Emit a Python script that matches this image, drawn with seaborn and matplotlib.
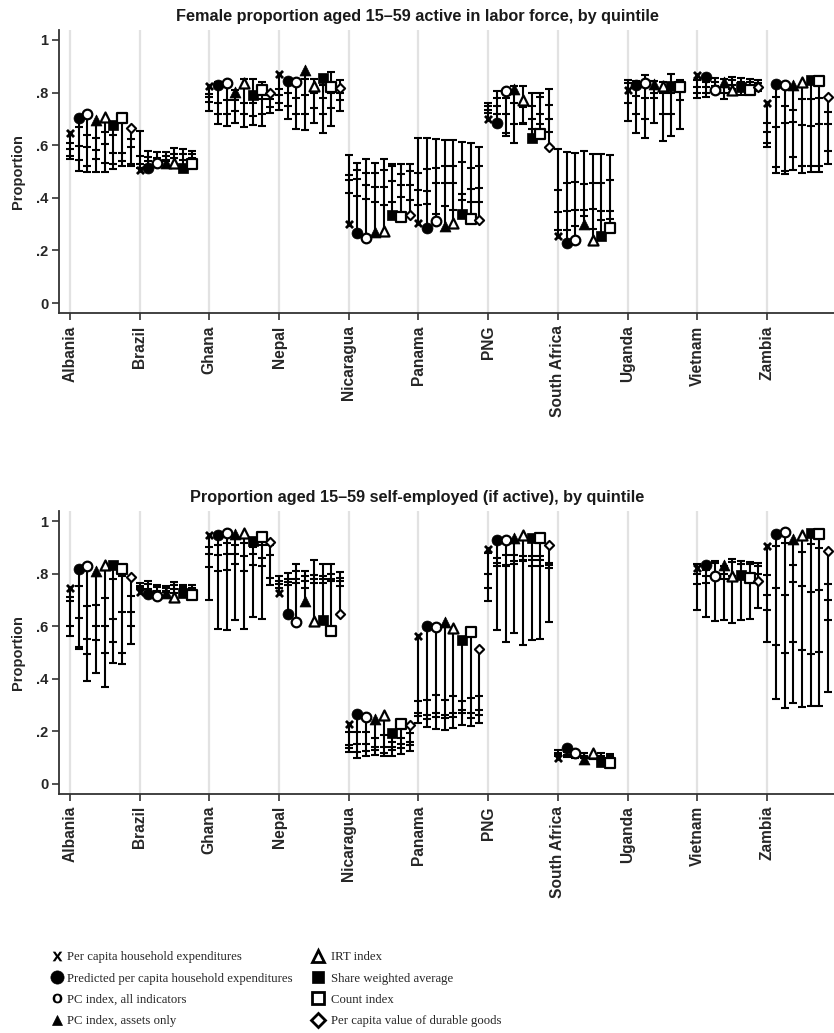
import numpy as np
import pandas as pd
import seaborn as sns
import matplotlib.pyplot as plt
from matplotlib.lines import Line2D

countries = ['Albania', 'Brazil', 'Ghana', 'Nepal', 'Nicaragua', 'Panama', 'PNG',
             'South Africa', 'Uganda', 'Vietnam', 'Zambia']
methods = ['Per capita household expenditures',
           'Predicted per capita household expenditures',
           'PC index, all indicators', 'PC index, assets only', 'IRT index',
           'Share weighted average', 'Count index',
           'Per capita value of durable goods']

# one row per method, values for quintiles 1..5 (marker = quintile 1)
# --- female proportion active in labor force ---
active_albania = [[0.645, 0.61, 0.585, 0.56, 0.546], [0.704, 0.668, 0.596, 0.543, 0.503],
                  [0.718, 0.64, 0.594, 0.52, 0.497], [0.695, 0.628, 0.58, 0.546, 0.499],
                  [0.708, 0.65, 0.604, 0.533, 0.499], [0.676, 0.64, 0.571, 0.53, 0.511],
                  [0.702, 0.714, 0.569, 0.54, 0.52], [0.666, 0.622, 0.594, 0.527, 0.52]]
active_brazil = [[0.505, 0.655, 0.56, 0.53, 0.515], [0.515, 0.579, 0.556, 0.54, 0.525],
                 [0.533, 0.575, 0.552, 0.54, 0.535], [0.533, 0.575, 0.56, 0.545, 0.54],
                 [0.534, 0.591, 0.565, 0.55, 0.52], [0.514, 0.584, 0.568, 0.545, 0.525],
                 [0.53, 0.579, 0.565, 0.55, 0.54], None]
active_ghana = [[0.825, 0.794, 0.784, 0.765, 0.731], [0.827, 0.841, 0.759, 0.72, 0.68],
                [0.838, 0.84, 0.772, 0.72, 0.673], [0.803, 0.81, 0.772, 0.73, 0.683],
                [0.835, 0.85, 0.759, 0.72, 0.668], [0.79, 0.852, 0.76, 0.71, 0.676],
                [0.81, 0.841, 0.774, 0.72, 0.673], [0.8, 0.79, 0.775, 0.746, 0.721]]
active_nepal = [[0.871, 0.812, 0.79, 0.76, 0.733], [0.844, 0.85, 0.80, 0.75, 0.698],
                [0.841, 0.85, 0.78, 0.72, 0.66], [0.886, 0.85, 0.79, 0.72, 0.657],
                [0.825, 0.85, 0.80, 0.74, 0.683], [0.854, 0.83, 0.78, 0.72, 0.647],
                [0.822, 0.879, 0.80, 0.74, 0.674], [0.816, 0.848, 0.80, 0.77, 0.731]]
active_nicaragua = [[0.302, 0.419, 0.467, 0.487, 0.562], [0.268, 0.406, 0.47, 0.505, 0.533],
                    [0.247, 0.395, 0.45, 0.496, 0.549], [0.27, 0.385, 0.44, 0.495, 0.533],
                    [0.274, 0.372, 0.44, 0.505, 0.547], [0.334, 0.385, 0.464, 0.52, 0.53],
                    [0.326, 0.404, 0.45, 0.492, 0.53], [0.334, 0.39, 0.448, 0.5, 0.53]]
active_panama = [[0.305, 0.374, 0.429, 0.495, 0.626], [0.287, 0.378, 0.425, 0.511, 0.628],
                 [0.311, 0.34, 0.457, 0.514, 0.622], [0.292, 0.368, 0.457, 0.52, 0.619],
                 [0.305, 0.355, 0.457, 0.522, 0.619], [0.34, 0.39, 0.416, 0.537, 0.613],
                 [0.319, 0.385, 0.435, 0.515, 0.609], [0.315, 0.385, 0.438, 0.522, 0.594]]
active_png = [[0.698, 0.721, 0.735, 0.749, 0.761], [0.683, 0.72, 0.75, 0.78, 0.807],
              [0.807, 0.78, 0.72, 0.647, 0.635], [0.812, 0.825, 0.76, 0.68, 0.609],
              [0.772, 0.825, 0.746, 0.683, 0.68], [0.626, 0.8, 0.75, 0.7, 0.66],
              [0.642, 0.797, 0.784, 0.72, 0.68], [0.594, 0.65, 0.698, 0.753, 0.812]]
active_south_africa = [[0.254, 0.277, 0.345, 0.431, 0.585], [0.23, 0.277, 0.35, 0.457, 0.574],
                       [0.241, 0.292, 0.355, 0.461, 0.571], [0.299, 0.33, 0.353, 0.454, 0.577],
                       [0.239, 0.28, 0.359, 0.458, 0.565], [0.254, 0.315, 0.35, 0.458, 0.566],
                       [0.286, 0.32, 0.35, 0.467, 0.562], None]
active_uganda = [[0.81, 0.848, 0.835, 0.76, 0.693], [0.829, 0.845, 0.787, 0.72, 0.647],
                 [0.835, 0.867, 0.778, 0.7, 0.626], [0.832, 0.845, 0.797, 0.778, 0.685],
                 [0.826, 0.841, 0.8, 0.72, 0.617], [0.825, 0.871, 0.8, 0.72, 0.635],
                 [0.82, 0.848, 0.838, 0.772, 0.66], None]
active_vietnam = [[0.867, 0.848, 0.82, 0.8, 0.78], [0.858, 0.84, 0.82, 0.8, 0.782],
                  [0.81, 0.854, 0.841, 0.825, 0.82], [0.841, 0.85, 0.82, 0.8, 0.775],
                  [0.81, 0.858, 0.848, 0.83, 0.815], [0.82, 0.854, 0.84, 0.83, 0.791],
                  [0.81, 0.85, 0.84, 0.825, 0.8], [0.82, 0.848, 0.835, 0.825, 0.807]]
active_zambia = [[0.759, 0.685, 0.651, 0.609, 0.594], [0.832, 0.782, 0.668, 0.518, 0.496],
                 [0.829, 0.75, 0.683, 0.5, 0.49], [0.829, 0.734, 0.689, 0.556, 0.505],
                 [0.841, 0.775, 0.676, 0.522, 0.495], [0.848, 0.775, 0.673, 0.52, 0.499],
                 [0.845, 0.778, 0.68, 0.52, 0.499], [0.784, 0.727, 0.68, 0.579, 0.53]]

# --- proportion self-employed (if active) ---
selfemp_albania = [[0.745, 0.71, 0.694, 0.601, 0.561], [0.818, 0.752, 0.631, 0.522, 0.512],
                   [0.828, 0.675, 0.55, 0.493, 0.389], [0.809, 0.682, 0.6, 0.545, 0.42],
                   [0.832, 0.707, 0.6, 0.499, 0.369], [0.833, 0.78, 0.627, 0.539, 0.461],
                   [0.818, 0.792, 0.654, 0.499, 0.456], [0.787, 0.713, 0.654, 0.601, 0.532]]
selfemp_brazil = [[0.729, 0.764, 0.752, 0.745, 0.74], [0.722, 0.773, 0.76, 0.74, 0.73],
                  [0.713, 0.758, 0.75, 0.735, 0.725], [0.724, 0.752, 0.745, 0.735, 0.73],
                  [0.71, 0.767, 0.755, 0.74, 0.725], [0.726, 0.758, 0.75, 0.74, 0.73],
                  [0.717, 0.755, 0.745, 0.735, 0.725], None]
selfemp_ghana = [[0.946, 0.901, 0.873, 0.825, 0.698], [0.946, 0.907, 0.87, 0.809, 0.59],
                 [0.955, 0.917, 0.873, 0.815, 0.583], [0.949, 0.907, 0.873, 0.837, 0.624],
                 [0.955, 0.915, 0.866, 0.809, 0.589], [0.924, 0.9, 0.873, 0.834, 0.634],
                 [0.939, 0.91, 0.86, 0.828, 0.628], [0.92, 0.91, 0.869, 0.783, 0.755]]
selfemp_nepal = [[0.724, 0.79, 0.77, 0.761, 0.745], [0.646, 0.803, 0.78, 0.767, 0.758],
                 [0.614, 0.838, 0.809, 0.78, 0.764], [0.697, 0.809, 0.79, 0.77, 0.745],
                 [0.62, 0.851, 0.796, 0.78, 0.764], [0.624, 0.838, 0.792, 0.78, 0.764],
                 [0.582, 0.838, 0.8, 0.78, 0.77], [0.647, 0.805, 0.783, 0.77, 0.752]]
selfemp_nicaragua = [[0.225, 0.197, 0.146, 0.134, 0.121], [0.264, 0.197, 0.15, 0.121, 0.096],
                     [0.252, 0.197, 0.15, 0.124, 0.104], [0.246, 0.172, 0.14, 0.127, 0.108],
                     [0.261, 0.185, 0.14, 0.118, 0.104], [0.191, 0.159, 0.14, 0.127, 0.104],
                     [0.227, 0.172, 0.15, 0.136, 0.111], [0.223, 0.191, 0.16, 0.146, 0.124]]
selfemp_panama = [[0.561, 0.316, 0.27, 0.257, 0.232], [0.601, 0.318, 0.26, 0.245, 0.214],
                  [0.596, 0.336, 0.27, 0.255, 0.206], [0.614, 0.318, 0.26, 0.248, 0.204],
                  [0.592, 0.334, 0.27, 0.255, 0.21], [0.548, 0.316, 0.28, 0.268, 0.223],
                  [0.576, 0.325, 0.27, 0.251, 0.219], [0.512, 0.334, 0.28, 0.261, 0.232]]
selfemp_png = [[0.894, 0.879, 0.8, 0.745, 0.694], [0.926, 0.86, 0.84, 0.828, 0.586],
               [0.927, 0.87, 0.834, 0.83, 0.539], [0.934, 0.87, 0.847, 0.838, 0.573],
               [0.946, 0.866, 0.85, 0.847, 0.529], [0.934, 0.866, 0.85, 0.83, 0.548],
               [0.934, 0.866, 0.85, 0.828, 0.552], [0.907, 0.84, 0.832, 0.82, 0.615]]
selfemp_south_africa = [[0.099, 0.127, 0.115, 0.11, 0.105], [0.134, 0.12, 0.11, 0.105, 0.102],
                        [0.115, 0.11, 0.105, 0.1, 0.098], [0.092, 0.115, 0.105, 0.1, 0.098],
                        [0.115, 0.105, 0.1, 0.095, 0.093], [0.083, 0.115, 0.105, 0.1, 0.095],
                        [0.079, 0.112, 0.105, 0.1, 0.09], None]
selfemp_uganda = [None] * 8
selfemp_vietnam = [[0.822, 0.838, 0.8, 0.761, 0.66], [0.834, 0.815, 0.79, 0.762, 0.633],
                   [0.792, 0.847, 0.84, 0.8, 0.618], [0.834, 0.83, 0.8, 0.78, 0.624],
                   [0.792, 0.854, 0.843, 0.79, 0.61], [0.796, 0.848, 0.835, 0.8, 0.624],
                   [0.783, 0.843, 0.835, 0.8, 0.628], [0.773, 0.841, 0.83, 0.8, 0.669]]
selfemp_zambia = [[0.904, 0.796, 0.72, 0.662, 0.541], [0.949, 0.904, 0.745, 0.529, 0.321],
                  [0.958, 0.917, 0.717, 0.499, 0.287], [0.93, 0.832, 0.767, 0.541, 0.308],
                  [0.945, 0.882, 0.754, 0.51, 0.29], [0.953, 0.911, 0.729, 0.494, 0.296],
                  [0.949, 0.898, 0.736, 0.501, 0.296], [0.885, 0.761, 0.7, 0.624, 0.35]]

active = [active_albania, active_brazil, active_ghana, active_nepal, active_nicaragua,
          active_panama, active_png, active_south_africa, active_uganda, active_vietnam,
          active_zambia]
selfemp = [selfemp_albania, selfemp_brazil, selfemp_ghana, selfemp_nepal, selfemp_nicaragua,
           selfemp_panama, selfemp_png, selfemp_south_africa, selfemp_uganda, selfemp_vietnam,
           selfemp_zambia]

# marker styles per method
styles = [
    dict(marker='x', s=26, color='black', linewidth=2.0),
    dict(marker='o', s=62, facecolor='black', edgecolor='black', linewidth=0.5),
    dict(marker='o', s=48, facecolor='white', edgecolor='black', linewidth=1.6),
    dict(marker='^', s=62, facecolor='black', edgecolor='black', linewidth=0.5),
    dict(marker='^', s=52, facecolor='white', edgecolor='black', linewidth=1.6),
    dict(marker='s', s=55, facecolor='black', edgecolor='black', linewidth=0.5),
    dict(marker='s', s=46, facecolor='white', edgecolor='black', linewidth=1.6),
    dict(marker='D', s=22, facecolor='white', edgecolor='black', linewidth=1.5),
]
legend_markers = ['$\\mathbf{X}$', 'o', '$\\mathbf{O}$', '^', '^', 's', 's', 'D']
legend_sizes = [7, 9.5, 7, 7.5, 9, 8, 8.5, 7.5]
offset = 0.125


def to_frame(rows_by_country):
    recs = []
    for ci, rows in enumerate(rows_by_country):
        for mi, vals in enumerate(rows):
            if vals is None:
                continue
            for qi, v in enumerate(vals):
                recs.append(dict(country=countries[ci], method=methods[mi], quintile=qi + 1,
                                 value=v, x=ci + mi * offset))
    return pd.DataFrame(recs)


sns.set_style('ticks')
plt.rcParams['font.family'] = ['Liberation Sans', 'DejaVu Sans']
plt.rcParams['font.weight'] = 'bold'

fig = plt.figure(figsize=(8.34, 10.33), dpi=100)
ax1 = fig.add_axes([0.0713, 0.697, 0.9287, 0.274])
ax2 = fig.add_axes([0.0713, 0.2318, 0.9287, 0.2735])


def draw(ax, rows, title, title_y):
    df = to_frame(rows)
    for ci in range(len(countries)):
        ax.axvline(ci, color='#e2e2e2', lw=1.6, zorder=0)
    rng = df.groupby(['country', 'method']).agg(lo=('value', 'min'), hi=('value', 'max'),
                                                x=('x', 'first'))
    ax.vlines(rng['x'], rng['lo'], rng['hi'], color='black', lw=1.5, zorder=2)
    ticks = df[df['quintile'] > 1]
    sns.scatterplot(data=ticks, x='x', y='value', marker='_', s=34, color='black',
                    linewidth=1.5, ax=ax, zorder=2, legend=False)
    q1 = df[df['quintile'] == 1]
    for m, st in zip(methods, styles):
        sub = q1[q1['method'] == m]
        if len(sub):
            sns.scatterplot(data=sub, x='x', y='value', ax=ax, zorder=3, legend=False, **st)
    ax.set_xlim(-0.15, 10.96)
    ax.set_ylim(-0.038, 1.038)
    ax.set_xticks(range(len(countries)))
    ax.set_xticklabels(countries, rotation=90, fontsize=11.2, fontweight='bold')
    ax.set_yticks([0, 0.2, 0.4, 0.6, 0.8, 1])
    ax.set_yticklabels(['0', '.2', '.4', '.6', '.8', '1'], fontsize=10.5, fontweight='bold')
    ax.set_xlabel('')
    ax.set_ylabel('Proportion', fontsize=10.5, fontweight='bold', labelpad=8)
    ax.tick_params(length=5, width=1.2, color='#333333')
    ax.tick_params(axis='x', pad=4)
    ax.tick_params(axis='y', pad=3)
    sns.despine(ax=ax)
    for sp in ('left', 'bottom'):
        ax.spines[sp].set_linewidth(1.3)
        ax.spines[sp].set_color('#333333')
    fig.text(0.5, title_y, title, ha='center', va='baseline', fontsize=11.7,
             fontweight='bold', color='#1a1a1a')


draw(ax1, active, 'Female proportion aged 15\u201359 active in labor force, by quintile',
     1 - 21 / 1033)
draw(ax2, selfemp, 'Proportion aged 15\u201359 self-employed (if active), by quintile',
     1 - 502 / 1033)

# legend
handles = []
for st, mk, ms in zip(styles, legend_markers, legend_sizes):
    kw = dict(marker=mk, linestyle='none', markersize=ms)
    if mk.startswith('$'):
        kw.update(color='black', markeredgewidth=0)
    else:
        kw.update(markerfacecolor=st['facecolor'], markeredgecolor='black',
                  markeredgewidth=2.0 if st['facecolor'] == 'white' else 0.5)
    handles.append(Line2D([], [], **kw))

prop = dict(family=['Liberation Serif', 'DejaVu Serif'], size=9.2, weight='normal')
common = dict(frameon=False, prop=prop, borderpad=0, borderaxespad=0, handlelength=1.0,
              labelspacing=0.72, loc='upper left')
leg1 = fig.legend(handles[:4], methods[:4], bbox_to_anchor=(0.0605, 0.0790),
                  handletextpad=0.3, **common)
leg2 = fig.legend(handles[4:], methods[4:], bbox_to_anchor=(0.3735, 0.0790),
                  handletextpad=0.55, **common)

fig.savefig('out.png', dpi=100)
